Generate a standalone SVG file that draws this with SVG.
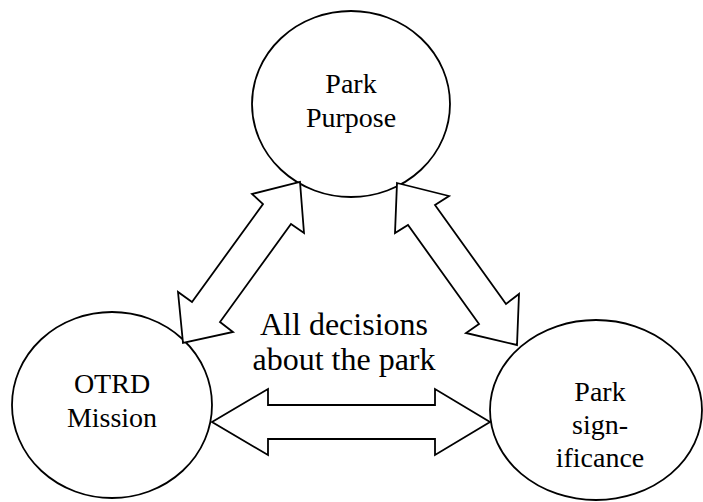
<svg xmlns="http://www.w3.org/2000/svg" width="703" height="502" viewBox="0 0 703 502">
<style>
.node{fill:#fff;stroke:#000;stroke-width:1.8}
.arr{fill:#fff;stroke:#000;stroke-width:1.8;stroke-linejoin:miter}
text{font-family:"Liberation Serif","Times New Roman",serif;fill:#000;text-anchor:middle}
.t{font-size:28px}
.c{font-size:32px}
</style>
<rect width="703" height="502" fill="#fff"/>
<g id="purpose">
<ellipse class="node" cx="351" cy="104" rx="99" ry="93"/>
<text class="t" x="351" y="93">Park</text>
<text class="t" x="351" y="127">Purpose</text>
</g>
<g id="mission">
<ellipse class="node" cx="112" cy="405" rx="100" ry="93"/>
<text class="t" x="112" y="393">OTRD</text>
<text class="t" x="112" y="427">Mission</text>
</g>
<g id="significance">
<ellipse class="node" cx="596" cy="410" rx="106" ry="90"/>
<text class="t" x="600" y="401">Park</text>
<text class="t" x="600" y="434">sign-</text>
<text class="t" x="600" y="467">ificance</text>
</g>
<g id="connectors">
<polygon class="arr" points="300,182 304,233 291,224 220,322 233,332 183,343 178,292 192,302 263,204 252,194"/>
<polygon class="arr" points="397,183 449,196 435,205 506,304 519,294 517,345 466,333 479,324 408,225 395,233"/>
<polygon class="arr" points="212,422 268,389 268,405 435,405 435,389 490,422 435,455 435,439 268,439 268,455"/>
</g>
<g id="center-label">
<text class="c" x="344" y="335">All decisions</text>
<text class="c" x="344" y="370">about the park</text>
</g>
</svg>
